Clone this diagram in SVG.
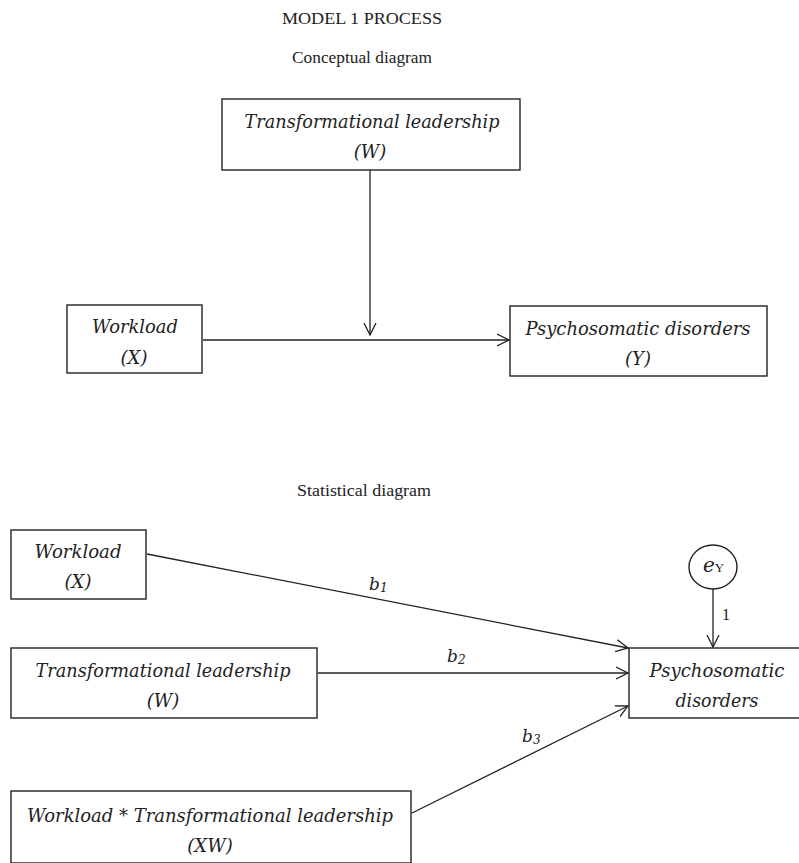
<svg xmlns="http://www.w3.org/2000/svg" width="799" height="863" viewBox="0 0 799 863">
<style>
.bg{fill:#fff}
.box{fill:#fff;stroke:#222;stroke-width:1.4}
.t{font-family:"Liberation Serif","Times New Roman",serif;fill:#222}
.i{font-family:"DejaVu Serif","Liberation Serif",serif;font-style:italic}
.c{text-anchor:middle}
.ln{stroke:#222;stroke-width:1.3;fill:none}
</style>
<defs>
<marker id="ah" markerUnits="userSpaceOnUse" markerWidth="14" markerHeight="14" refX="12" refY="6" orient="auto" viewBox="0 0 14 12">
<path d="M0,0 L12,6 L0,12" fill="none" stroke="#222" stroke-width="1.3"/>
</marker>
</defs>
<rect class="bg" x="0" y="0" width="799" height="863"/>
<g id="titles">
<text class="t c" x="362" y="24" font-size="17" textLength="160" lengthAdjust="spacingAndGlyphs">MODEL 1 PROCESS</text>
<text class="t c" x="362" y="63" font-size="17" textLength="140" lengthAdjust="spacingAndGlyphs">Conceptual diagram</text>
<text class="t c" x="364" y="496" font-size="17" textLength="134" lengthAdjust="spacingAndGlyphs">Statistical diagram</text>
</g>
<g id="connectors">
<line class="ln" x1="370" y1="170" x2="370" y2="335" marker-end="url(#ah)"/>
<line class="ln" x1="203" y1="340" x2="509" y2="340" marker-end="url(#ah)"/>
<line class="ln" x1="147" y1="554" x2="628" y2="648" marker-end="url(#ah)"/>
<line class="ln" x1="318" y1="673" x2="628" y2="673" marker-end="url(#ah)"/>
<line class="ln" x1="412" y1="813" x2="628" y2="706" marker-end="url(#ah)"/>
<line class="ln" x1="713" y1="589" x2="713" y2="647" marker-end="url(#ah)"/>
<text class="t i" x="369" y="590" font-size="17">b<tspan font-size="12" dy="2">1</tspan></text>
<text class="t i" x="447" y="662" font-size="17">b<tspan font-size="12" dy="2">2</tspan></text>
<text class="t i" x="522" y="742" font-size="17">b<tspan font-size="12" dy="2">3</tspan></text>
<text class="t" x="722" y="620" font-size="16">1</text>
</g>
<g id="c_W">
<rect class="box" x="222" y="99" width="298" height="71"/>
<text class="t i c" x="372" y="128" font-size="18" textLength="255" lengthAdjust="spacingAndGlyphs">Transformational leadership</text>
<text class="t i c" x="370" y="158" font-size="18">(W)</text>
</g>
<g id="c_X">
<rect class="box" x="67" y="305" width="135" height="68"/>
<text class="t i c" x="135" y="333" font-size="18" textLength="86" lengthAdjust="spacingAndGlyphs">Workload</text>
<text class="t i c" x="134" y="364" font-size="18">(X)</text>
</g>
<g id="c_Y">
<rect class="box" x="510" y="306" width="257" height="70"/>
<text class="t i c" x="638" y="335" font-size="18" textLength="225" lengthAdjust="spacingAndGlyphs">Psychosomatic disorders</text>
<text class="t i c" x="638" y="365" font-size="18">(Y)</text>
</g>
<g id="s_X">
<rect class="box" x="11" y="530" width="135" height="69"/>
<text class="t i c" x="78" y="558" font-size="18" textLength="87" lengthAdjust="spacingAndGlyphs">Workload</text>
<text class="t i c" x="78" y="588" font-size="18">(X)</text>
</g>
<g id="s_W">
<rect class="box" x="11" y="648" width="306" height="70"/>
<text class="t i c" x="163" y="677" font-size="18" textLength="255" lengthAdjust="spacingAndGlyphs">Transformational leadership</text>
<text class="t i c" x="163" y="707" font-size="18">(W)</text>
</g>
<g id="s_XW">
<rect class="box" x="11" y="791" width="400" height="72"/>
<text class="t i c" x="210" y="822" font-size="18" textLength="366" lengthAdjust="spacingAndGlyphs">Workload * Transformational leadership</text>
<text class="t i c" x="210" y="852" font-size="18">(XW)</text>
</g>
<g id="s_Y">
<rect class="box" x="629" y="648" width="180" height="70"/>
<text class="t i c" x="717" y="677" font-size="18" textLength="135" lengthAdjust="spacingAndGlyphs">Psychosomatic</text>
<text class="t i c" x="717" y="707" font-size="18" textLength="83" lengthAdjust="spacingAndGlyphs">disorders</text>
</g>
<g id="eY">
<ellipse class="box" cx="713" cy="567" rx="24" ry="22"/>
<text class="t i" x="703" y="572" font-size="20">e<tspan font-size="13" font-style="normal" font-family="Liberation Serif">Y</tspan></text>
</g>
</svg>
